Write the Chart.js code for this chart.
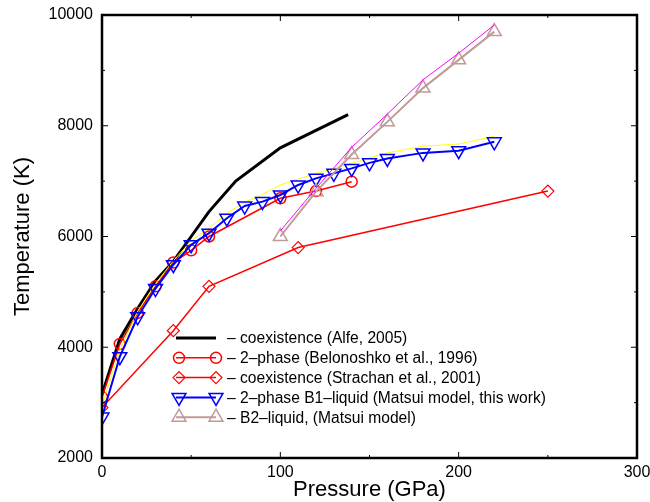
<!DOCTYPE html>
<html>
<head>
<meta charset="utf-8">
<script src="https://cdn.jsdelivr.net/npm/chart.js@4.4.1/dist/chart.umd.min.js"></script>
<style>
  html, body { margin: 0; padding: 0; background: #fff; }
  #wrap { width: 650px; height: 502px; }
</style>
</head>
<body>
<div id="wrap"><canvas id="melting-chart"></canvas></div>
<script>
// Dữ liệu
const alfeP = [0, 10, 20, 30, 40, 50, 60, 75, 100, 138];
const alfeT = [3150, 4150, 4700, 5200, 5550, 6000, 6450, 7000, 7600, 8200];

const belonoshkoP = [0, 10, 20, 30, 40, 50, 60, 100, 120, 140];
const belonoshkoT = [3100, 4060, 4620, 5100, 5530, 5750, 6000, 6690, 6820, 6990];

const strachanP = [0, 40, 60, 110, 250];
const strachanT = [2910, 4300, 5100, 5800, 6820];

const b1P = [0, 10, 20, 30, 40, 50, 60, 70, 80, 90, 100, 110, 120, 130, 140, 150, 160, 180, 200, 220];
const b1T = [2740, 3830, 4550, 5060, 5490, 5850, 6060, 6330, 6550, 6630, 6750, 6930, 7050, 7140, 7230, 7330, 7410, 7510, 7550, 7710];

// đường vàng mảnh (không có trong chú thích)
const yellowP = b1P;
const yellowT = [2950, 3950, 4650, 5150, 5560, 5920, 6150, 6420, 6620, 6760, 6930, 7040, 7140, 7230, 7320, 7420, 7510, 7630, 7670, 7810];

const b2P = [100, 120, 140, 160, 180, 200, 220];
const b2T = [6000, 6810, 7480, 8070, 8680, 9190, 9700];

// đường hồng mảnh (không có trong chú thích)
const magentaP = b2P;
const magentaT = [6100, 6870, 7610, 8210, 8830, 9310, 9820];

const xTicks = [0, 100, 200, 300];
const xMinorTicks = [50, 150, 250];
const yTicks = [2000, 4000, 6000, 8000, 10000];
const yMinorTicks = [3000, 5000, 7000, 9000];

const legendLabels = [
  '\u2013 coexistence (Alfe, 2005)',
  '\u2013 2\u2013phase (Belonoshko et al., 1996)',
  '\u2013 coexistence (Strachan et al., 2001)',
  '\u2013 2\u2013phase B1\u2013liquid (Matsui model, this work)',
  '\u2013 B2\u2013liquid, (Matsui model)'
];

function toPoints(xs, ys) {
  return xs.map((x, i) => ({ x: x, y: ys[i] }));
}

const FONT = 'Liberation Sans, Arial, Helvetica, sans-serif';

const datasets = [
  {
    label: legendLabels[0],
    data: toPoints(alfeP, alfeT),
    borderColor: '#000000',
    borderWidth: 3,
    pointRadius: 0,
    order: 7
  },
  {
    label: legendLabels[1],
    data: toPoints(belonoshkoP, belonoshkoT),
    borderColor: '#ff0000',
    borderWidth: 1.5,
    pointStyle: 'circle',
    pointRadius: 5.5,
    pointBorderWidth: 1.5,
    pointBorderColor: '#ff0000',
    pointBackgroundColor: 'rgba(0,0,0,0)',
    order: 6
  },
  {
    label: legendLabels[2],
    data: toPoints(strachanP, strachanT),
    borderColor: '#ff0000',
    borderWidth: 1.5,
    pointStyle: 'rectRot',
    pointRadius: 6,
    pointBorderWidth: 1.2,
    pointBorderColor: '#ff0000',
    pointBackgroundColor: 'rgba(0,0,0,0)',
    order: 5
  },
  {
    label: '',
    data: toPoints(yellowP, yellowT),
    borderColor: '#ffff00',
    borderWidth: 1,
    pointRadius: 0,
    order: 4
  },
  {
    label: legendLabels[3],
    data: toPoints(b1P, b1T),
    borderColor: '#0000ff',
    borderWidth: 2,
    pointStyle: 'triangle',
    pointRotation: 180,
    pointRadius: 8,
    pointBorderWidth: 1.5,
    pointBorderColor: '#0000ff',
    pointBackgroundColor: 'rgba(0,0,0,0)',
    order: 3
  },
  {
    label: legendLabels[4],
    data: toPoints(b2P, b2T),
    borderColor: '#c09a98',
    borderWidth: 2,
    pointStyle: 'triangle',
    pointRadius: 8,
    pointBorderWidth: 1.5,
    pointBorderColor: '#c09a98',
    pointBackgroundColor: 'rgba(0,0,0,0)',
    order: 2
  },
  {
    label: '',
    data: toPoints(magentaP, magentaT),
    borderColor: '#ff00ff',
    borderWidth: 1,
    pointRadius: 0,
    order: 1
  }
];

// Vẽ khung, vạch chia hướng vào trong và chú thích bên trong vùng vẽ
const framePlugin = {
  id: 'framePlugin',
  afterDatasetsDraw(chart) {
    const ctx = chart.ctx;
    const a = chart.chartArea;
    const xs = chart.scales.x;
    const ys = chart.scales.y;
    ctx.save();

    // chú thích
    const lx0 = 179, lx1 = 216, ltx = 227, ly0 = 338, lstep = 19.8;
    let row = 0;
    chart.data.datasets.forEach(ds => {
      if (!ds.label) return;
      const y = ly0 + row * lstep;
      ctx.strokeStyle = ds.borderColor;
      ctx.lineWidth = ds.borderWidth;
      ctx.beginPath();
      ctx.moveTo(lx0 - 3, y);
      ctx.lineTo(lx1, y);
      ctx.stroke();
      if (ds.pointRadius) {
        [lx0, lx1].forEach(px => {
          ctx.strokeStyle = ds.pointBorderColor;
          ctx.fillStyle = 'rgba(0,0,0,0)';
          ctx.lineWidth = ds.pointBorderWidth;
          Chart.helpers.drawPoint(ctx, {
            pointStyle: ds.pointStyle,
            radius: ds.pointRadius,
            rotation: ds.pointRotation || 0,
            borderWidth: ds.pointBorderWidth
          }, px, y);
        });
      }
      ctx.fillStyle = '#000';
      ctx.font = '15.6px ' + FONT;
      ctx.textAlign = 'left';
      ctx.textBaseline = 'middle';
      ctx.fillText(ds.label, ltx, y + 1);
      row++;
    });

    // vạch chia
    ctx.strokeStyle = '#000';
    ctx.lineWidth = 1;
    const major = 6, minor = 3;
    const vTick = (v, len) => {
      const px = xs.getPixelForValue(v);
      ctx.beginPath();
      ctx.moveTo(px, a.bottom); ctx.lineTo(px, a.bottom - len);
      ctx.moveTo(px, a.top); ctx.lineTo(px, a.top + len);
      ctx.stroke();
    };
    const hTick = (v, len) => {
      const py = ys.getPixelForValue(v);
      ctx.beginPath();
      ctx.moveTo(a.left, py); ctx.lineTo(a.left + len, py);
      ctx.moveTo(a.right, py); ctx.lineTo(a.right - len, py);
      ctx.stroke();
    };
    xTicks.forEach(v => vTick(v, major));
    xMinorTicks.forEach(v => vTick(v, minor));
    yTicks.forEach(v => hTick(v, major));
    yMinorTicks.forEach(v => hTick(v, minor));

    // khung
    ctx.lineWidth = 2.5;
    ctx.strokeRect(a.left, a.top, a.right - a.left, a.bottom - a.top);
    ctx.restore();
  }
};

new Chart(document.getElementById('melting-chart'), {
  type: 'line',
  data: { datasets: datasets },
  options: {
    responsive: true,
    maintainAspectRatio: false,
    animation: false,
    layout: { padding: { left: 0, right: 13, top: 15, bottom: 0 } },
    plugins: {
      legend: { display: false },
      tooltip: { enabled: false }
    },
    elements: { line: { tension: 0, fill: false } },
    scales: {
      x: {
        type: 'linear',
        min: 0,
        max: 300,
        border: { display: false },
        grid: { display: false, drawTicks: false },
        afterBuildTicks: s => { s.ticks = xTicks.map(v => ({ value: v })); },
        ticks: {
          color: '#000',
          font: { family: FONT, size: 16 },
          padding: 5,
          maxRotation: 0,
          callback: v => String(v)
        },
        title: {
          display: true,
          text: 'Pressure (GPa)',
          color: '#000',
          font: { family: FONT, size: 22, lineHeight: 1.1 },
          padding: { top: 0, bottom: 0 }
        },
        afterFit: s => { s.height = 44; s.paddingLeft = 0; s.paddingRight = 0; }
      },
      y: {
        type: 'linear',
        min: 2000,
        max: 10000,
        border: { display: false },
        grid: { display: false, drawTicks: false },
        afterBuildTicks: s => { s.ticks = yTicks.map(v => ({ value: v })); },
        ticks: {
          color: '#000',
          font: { family: FONT, size: 16 },
          padding: 9,
          callback: v => String(v)
        },
        title: {
          display: true,
          text: 'Temperature (K)',
          color: '#000',
          font: { family: FONT, size: 22, lineHeight: 1.1 },
          padding: { top: 11, bottom: 0 }
        },
        afterFit: s => { s.width = 102; s.paddingTop = 0; s.paddingBottom = 0; }
      }
    }
  },
  plugins: [framePlugin]
});
</script>
</body>
</html>
